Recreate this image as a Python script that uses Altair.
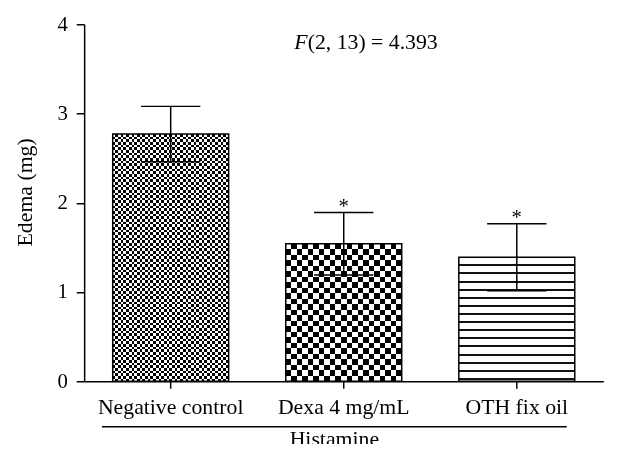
import altair as alt
import pandas as pd

# ---- data ----
categories = ["Negative control", "Dexa 4 mg/mL", "OTH fix oil"]
means = [2.77, 1.54, 1.39]
sems = [0.31, 0.35, 0.375]
stars = ["", "*", "*"]
y_ticks = [0, 1, 2, 3, 4]
y_title = "Edema (mg)"
group_label = "Histamine"
stat_f = "F"
stat_rest = "(2, 13) = 4.393"

df = pd.DataFrame({"cat": categories, "mean": means, "sem": sems, "star": stars})
df["lo"] = df["mean"] - df["sem"]
df["hi"] = df["mean"] + df["sem"]

# ---- layout ----
W, H = 525, 361
PX = H / 4.0
BAR_W = (W / 3) * (1 - 0.33)
FONT = "Liberation Serif"


def stripes(n, vertical, first, second):
    stops = []
    for i in range(n):
        c = first if i % 2 == 0 else second
        stops.append({"offset": i / n, "color": c})
        stops.append({"offset": (i + 1) / n, "color": c})
    g = {"gradient": "linear", "stops": stops, "x1": 0, "y1": 0}
    if vertical:
        g.update({"x2": 1, "y2": 0})
    else:
        g.update({"x2": 0, "y2": 1})
    return g


def lines(h_px, spacing, thick):
    stops = [{"offset": 0, "color": "white"}]
    k = 1
    while k * spacing < h_px - 2:
        a = (k * spacing - thick / 2) / h_px
        b = (k * spacing + thick / 2) / h_px
        stops += [{"offset": a, "color": "white"}, {"offset": a, "color": "#111111"},
                  {"offset": b, "color": "#111111"}, {"offset": b, "color": "white"}]
        k += 1
    stops.append({"offset": 1, "color": "white"})
    return {"gradient": "linear", "stops": stops, "x1": 0, "y1": 0, "x2": 0, "y2": 1}


x_enc = alt.X("cat:N", sort=categories,
              scale=alt.Scale(paddingInner=0.33, paddingOuter=0.165),
              axis=alt.Axis(title=None, labelAngle=0, labelFont=FONT, labelFontSize=22,
                            labelColor="black", tickSize=7, tickColor="black", tickWidth=1.5,
                            domainColor="black", domainWidth=1.5, labelPadding=9))
y_scale = alt.Scale(domain=[0, 4], nice=False)
y_axis = alt.Axis(title=None, values=y_ticks, grid=False, labelFont=FONT, labelFontSize=21,
                  labelColor="black", tickSize=8, tickColor="black", tickWidth=1.5,
                  domainColor="black", domainWidth=1.5, labelPadding=9)
y_enc = alt.Y("mean:Q", scale=y_scale, axis=y_axis)

base = alt.Chart(df)
layers = []

checker_cells = {categories[0]: 2.7, categories[1]: 5.6}
for c, m in zip(categories, means):
    h_px = m * PX
    sub = base.transform_filter(alt.datum.cat == c)
    if c in checker_cells:
        cell = checker_cells[c]
        nr = max(2, round(h_px / cell))
        nc = max(2, round(BAR_W / cell))
        layers.append(sub.mark_bar(fill=stripes(nr, False, "black", "white"), strokeWidth=0)
                      .encode(x=x_enc, y=y_enc))
        layers.append(sub.mark_bar(fill=stripes(nc, True, "white", "black"), strokeWidth=0,
                                   blend="difference")
                      .encode(x=x_enc, y=y_enc))
    else:
        layers.append(sub.mark_bar(fill=lines(h_px, 8.2, 2.0), strokeWidth=0)
                      .encode(x=x_enc, y=y_enc))

# bar outlines
layers.append(base.mark_bar(fillOpacity=0, stroke="black", strokeWidth=1.5)
              .encode(x=x_enc, y=y_enc))

# error bars
layers.append(base.mark_rule(color="black", strokeWidth=1.5)
              .encode(x=x_enc, y=alt.Y("lo:Q", scale=y_scale, axis=y_axis), y2="hi:Q"))
layers.append(base.mark_tick(size=60, thickness=1.5, color="black", opacity=1)
              .encode(x=x_enc, y=alt.Y("hi:Q", scale=y_scale, axis=y_axis)))
layers.append(base.mark_tick(size=60, thickness=1.5, color="black", opacity=1)
              .encode(x=x_enc, y=alt.Y("lo:Q", scale=y_scale, axis=y_axis)))
layers.append(base.mark_text(font=FONT, fontSize=21, baseline="alphabetic", dy=0, color="black")
              .encode(x=x_enc, y=alt.Y("hi:Q", scale=y_scale, axis=y_axis), text="star:N"))

# annotations
ann = alt.Chart(pd.DataFrame({"f": [stat_f], "r": [stat_rest], "g": [group_label], "t": [y_title]}))
layers.append(ann.mark_text(font=FONT, fontSize=22, fontStyle="italic", align="right",
                            baseline="alphabetic", color="black")
              .encode(x=alt.value(226), y=alt.value(25), text="f:N"))
layers.append(ann.mark_text(font=FONT, fontSize=22, align="left",
                            baseline="alphabetic", color="black")
              .encode(x=alt.value(226), y=alt.value(25), text="r:N"))
layers.append(ann.mark_text(font=FONT, fontSize=22, angle=270, align="center",
                            baseline="middle", color="black")
              .encode(x=alt.value(-60), y=alt.value(170), text="t:N"))
layers.append(ann.mark_rule(color="black", strokeWidth=1.5)
              .encode(x=alt.value(18), x2=alt.value(488), y=alt.value(407)))
layers.append(ann.mark_text(font=FONT, fontSize=22, align="center",
                            baseline="alphabetic", color="black")
              .encode(x=alt.value(253), y=alt.value(426), text="g:N"))

chart = alt.layer(*layers).properties(
    width=W, height=H,
    autosize=alt.AutoSizeParams(type="none"),
    padding={"left": 77, "top": 14, "right": 30, "bottom": 61},
    background="white",
).configure_view(stroke=None)

chart.save("out.html", embed_options={"renderer": "svg", "actions": False})
